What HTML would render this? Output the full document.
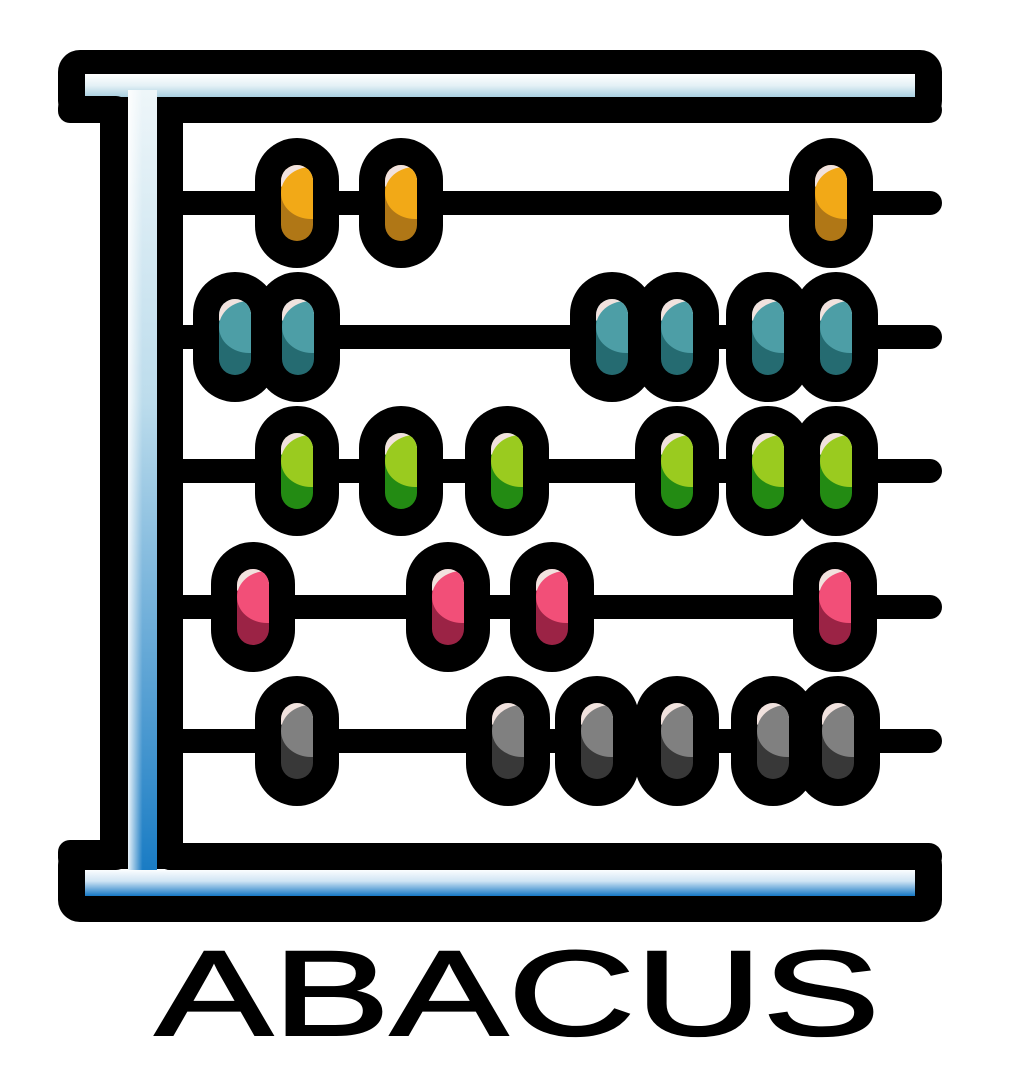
<!DOCTYPE html>
<html><head><meta charset="utf-8">
<style>
html,body{margin:0;padding:0;background:#fff;}
svg{display:block;}
</style></head>
<body>
<svg id="logo" width="1031" height="1088" viewBox="0 0 1031 1088" xmlns="http://www.w3.org/2000/svg">
<defs>
  <linearGradient id="topStrip" x1="0" y1="0" x2="0" y2="1">
    <stop offset="0" stop-color="#ffffff"/><stop offset="0.5" stop-color="#e4f1f6"/><stop offset="1" stop-color="#a9cfe0"/>
  </linearGradient>
  <linearGradient id="botStrip" x1="0" y1="0" x2="0" y2="1">
    <stop offset="0" stop-color="#ffffff"/><stop offset="0.45" stop-color="#cfe4f4"/><stop offset="1" stop-color="#1577c4"/>
  </linearGradient>
  <linearGradient id="leftStrip" x1="0" y1="0" x2="0" y2="1">
    <stop offset="0" stop-color="#eef6f9"/><stop offset="0.4" stop-color="#bcdcec"/><stop offset="1" stop-color="#1a7cc4"/>
  </linearGradient>
  <linearGradient id="leftStripH" x1="0" y1="0" x2="1" y2="0">
    <stop offset="0" stop-color="#ffffff" stop-opacity="0.9"/><stop offset="0.5" stop-color="#ffffff" stop-opacity="0"/><stop offset="1" stop-color="#ffffff" stop-opacity="0"/>
  </linearGradient>
</defs>
<g>
  <rect x="58" y="50" width="884" height="73" rx="22" fill="#000"/>
  <rect x="58" y="843" width="884" height="79" rx="22" fill="#000"/>
  <rect x="100" y="96" width="28" height="770" rx="10" fill="#000"/>
  <rect x="85" y="74" width="830" height="23" fill="url(#topStrip)"/>
  <rect x="85" y="869" width="830" height="27" fill="url(#botStrip)"/>
  <rect x="128" y="90" width="29" height="780" fill="url(#leftStrip)"/>
  <rect x="128" y="90" width="29" height="780" fill="url(#leftStripH)"/>
  <rect x="58" y="96" width="70" height="27" rx="12" fill="#000"/>
  <rect x="58" y="840" width="70" height="30" rx="12" fill="#000"/>
  <rect x="157" y="97" width="785" height="26" rx="13" fill="#000"/>
  <rect x="157" y="97" width="26" height="773" rx="13" fill="#000"/>
  <rect x="157" y="843" width="785" height="27" rx="13" fill="#000"/>
</g>
<g id="rods"></g>
<g id="beads"></g>
<text x="155" y="1035" textLength="725" lengthAdjust="spacingAndGlyphs" font-family="'Liberation Sans', sans-serif" font-weight="normal" font-size="121" fill="#000" stroke="#000" stroke-width="2">ABACUS</text>
</svg>
<script>
const rodY = [203, 337, 471, 607, 741];
const beadX = [
  [297, 401, 831],
  [235, 298, 612, 677, 768, 836],
  [297, 401, 507, 677, 768, 836],
  [253, 448, 552, 835],
  [297, 508, 597, 677, 773, 838]
];
const lightColors = ['#f2a917', '#4d9ea6', '#9acb1f', '#f24f78', '#808080'];
const darkColors = ['#b07716', '#256b71', '#238b13', '#9b2345', '#383838'];
const NS = 'http://www.w3.org/2000/svg';
function mk(tag, attrs, parent){
  const e = document.createElementNS(NS, tag);
  for (const k in attrs) e.setAttribute(k, attrs[k]);
  parent.appendChild(e);
  return e;
}
const rods = document.getElementById('rods');
const beads = document.getElementById('beads');
const defs = document.querySelector('defs');
let n = 0;
rodY.forEach((y, r) => {
  const rod = mk('line', {x1: 183, y1: y, x2: 930, y2: y, stroke: '#000', 'stroke-width': 24, 'stroke-linecap': 'round'}, rods);
  
  
  beadX[r].forEach((x) => {
    n++;
    const g = mk('g', {}, beads);
    
    
    mk('rect', {x: x - 42, y: y - 65, width: 84, height: 130, rx: 42, fill: '#000'}, g);
    const cp = mk('clipPath', {id: 'cp' + n}, defs);
    mk('rect', {x: x - 16, y: y - 38, width: 32, height: 76, rx: 16}, cp);
    const inner = mk('g', {'clip-path': 'url(#cp' + n + ')'}, g);
    mk('rect', {x: x - 16, y: y - 38, width: 32, height: 76, fill: darkColors[r]}, inner);
    mk('ellipse', {cx: x - 4, cy: y - 30, rx: 22, ry: 16, fill: '#f1e2de'}, inner);
    mk('ellipse', {cx: x + 14, cy: y - 10, rx: 30, ry: 26, fill: lightColors[r]}, inner);
  });
});
</script>
</body></html>
